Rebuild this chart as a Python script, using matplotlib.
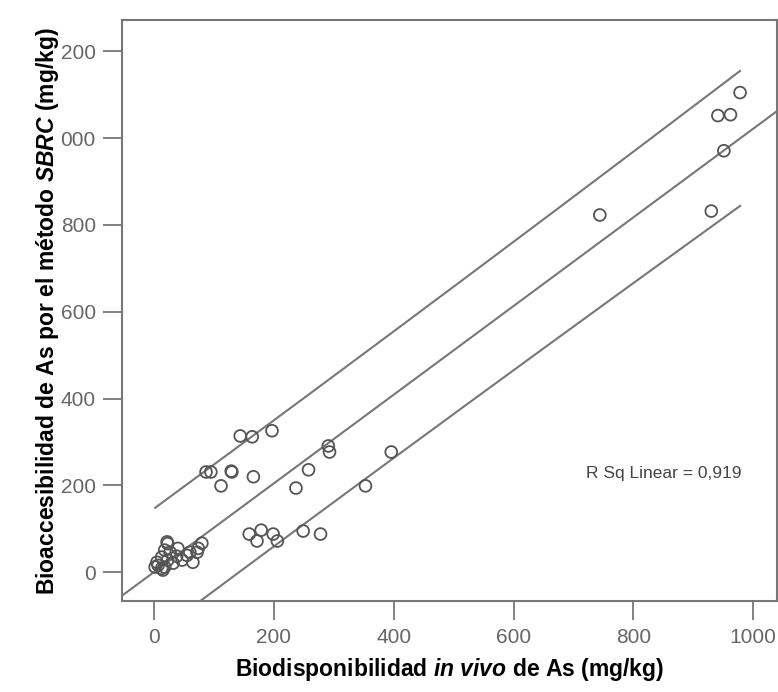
import numpy as np
import matplotlib
matplotlib.use("Agg")
import matplotlib.pyplot as plt

# in vivo bioavailability (x) vs SBRC bioaccessibility (y), mg/kg
in_vivo = [2, 5, 7, 13, 13, 15, 18, 18, 22, 23, 23, 27, 32, 38, 40, 47, 55, 60, 65, 72, 74, 80,
           87, 95, 112, 129, 130, 144, 164, 166, 197, 237, 258, 291, 293, 353, 396,
           159, 172, 179, 199, 206, 249, 278,
           744, 930, 941, 951, 962, 978]
sbrc = [12, 23, 16, 9, 35, 5, 12, 51, 70, 28, 66, 46, 21, 37, 55, 28, 39, 46, 23, 46, 55, 67,
        231, 231, 199, 233, 231, 314, 312, 220, 326, 194, 236, 291, 277, 199, 277,
        88, 72, 97, 88, 72, 95, 88,
        823, 832, 1052, 971, 1054, 1105]

r_sq_text = "R Sq Linear = 0,919"
y_ticks = [0, 200, 400, 600, 800, 1000, 1200]
y_tick_labels = ["0", "200", "400", "600", "800", "000", "200"]
x_ticks = [0, 200, 400, 600, 800, 1000]

x = np.array(in_vivo, dtype=float)
y = np.array(sbrc, dtype=float)

# linear fit + prediction interval for individual values
slope, intercept = np.polyfit(x, y, 1)
n = len(x)
resid = y - (intercept + slope * x)
s = np.sqrt(np.sum(resid ** 2) / (n - 2))
sxx = np.sum((x - x.mean()) ** 2)
t_val = 1.68  # ~90% level
xs = np.linspace(x.min(), x.max(), 200)
half = t_val * s * np.sqrt(1 + 1 / n + (xs - x.mean()) ** 2 / sxx)

grey = "#777777"
plt.rcParams["font.family"] = ["Liberation Sans", "DejaVu Sans"]
plt.rcParams["mathtext.fontset"] = "custom"
plt.rcParams["mathtext.rm"] = "Liberation Sans"
plt.rcParams["mathtext.it"] = "Liberation Sans:italic"
plt.rcParams["mathtext.bf"] = "Liberation Sans:bold"
plt.rcParams["mathtext.bfit"] = "Liberation Sans:italic:bold"

fig = plt.figure(figsize=(7.78, 6.92), dpi=100)
ax = fig.add_axes([0.157, 0.131, 0.842, 0.840])

# fit line across whole axis
xl = np.array([-60, 1100])
ax.plot(xl, intercept + slope * xl, color=grey, lw=1.5, zorder=1)
ax.plot(xs, intercept + slope * xs + half, color=grey, lw=1.5, zorder=1)
ax.plot(xs, intercept + slope * xs - half, color=grey, lw=1.5, zorder=1)

ax.scatter(x, y, s=72, facecolors="none", edgecolors="#555555", linewidths=1.3, zorder=2)

ax.text(980, 227, r_sq_text, ha="right", va="center", fontsize=12.5, color="#444444")

ax.set_xlim(-53, 1040)
ax.set_ylim(-67, 1272)
ax.set_xticks(x_ticks)
ax.set_yticks(y_ticks)
ax.set_yticklabels(y_tick_labels)

for sp in ax.spines.values():
    sp.set_color(grey)
    sp.set_linewidth(1.5)
ax.tick_params(axis="both", direction="out", length=14, width=1.3, color=grey,
               labelsize=15, labelcolor="#666666", pad=5)

ax.set_xlabel("Biodisponibilidad $\\mathbfit{in\\ vivo}$ de As (mg/kg)", fontsize=16.5,
              fontweight="bold", labelpad=7)
ax.set_ylabel("Bioaccesibilidad de As por el método $\\mathbfit{SBRC}$ (mg/kg)", fontsize=16.5,
              fontweight="bold", labelpad=0)

fig.savefig("out.png", dpi=100)
